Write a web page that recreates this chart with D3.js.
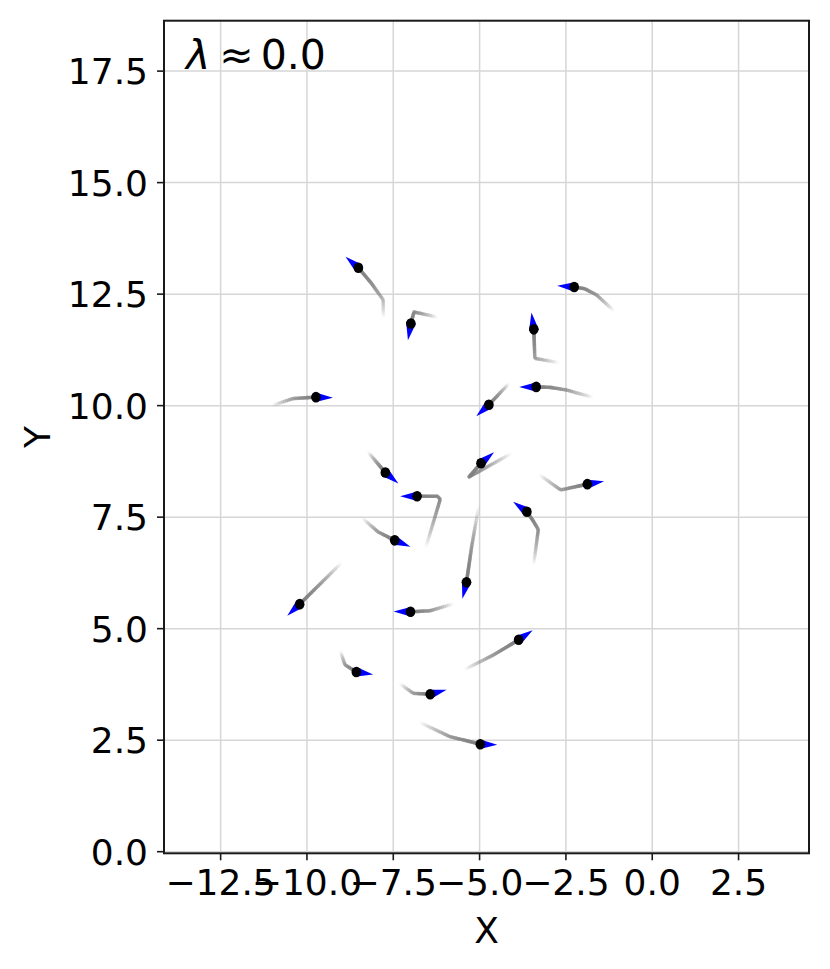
<!DOCTYPE html>
<html lang="en">
<head>
<meta charset="UTF-8">
<title>Agents</title>
<script src="https://d3js.org/d3.v7.min.js"></script>
<style>
  body { margin: 0; background: #fff; }
  svg text { font-family: "DejaVu Sans", sans-serif; fill: #000; }
</style>
</head>
<body>
<svg id="chart" width="830" height="969"></svg>
<script>
// agent positions (data units)
const agentX = [-8.51, -6.99, -2.26, -3.43, -9.74, -4.73, -3.36, -4.96, -7.73, -6.81,
                -1.88, -3.63, -7.46, -5.38, -10.21, -7.00, -3.87, -8.57, -6.43, -4.98];
const agentY = [13.09, 11.84, 12.66, 11.71, 10.19, 10.02, 10.42, 8.71, 8.50, 7.97,
                8.24, 7.62, 6.98, 6.04, 5.55, 5.38, 4.75, 4.03, 3.53, 2.41];
// heading in degrees (counter-clockwise from +x)
const heading = [139, -100, 176, 98, -2, -138, 180, 40, -40, 180,
                 10, 144, -22, -104, -137, 179, 34, -9, 15, -2];
// trail points from oldest to newest (the agent itself closes each trail)
const trails = [
  [[-7.79, 11.99], [-7.79, 12.37], [-8.13, 12.74]],
  [[-6.26, 11.99], [-6.90, 12.10]],
  [[-1.13, 12.14], [-1.61, 12.48], [-1.95, 12.62]],
  [[-2.74, 10.97], [-3.40, 11.06]],
  [[-10.98, 10.01], [-10.40, 10.16]],
  [[-4.17, 10.48]],
  [[-1.74, 10.19], [-2.48, 10.35], [-2.95, 10.41]],
  [[-4.10, 8.92], [-5.31, 8.40]],
  [[-8.21, 8.94]],
  [[-6.55, 6.84], [-6.14, 7.90], [-6.22, 7.97]],
  [[-3.25, 8.44], [-2.65, 8.11]],
  [[-3.43, 6.46], [-3.30, 7.22], [-3.45, 7.42]],
  [[-8.37, 7.46], [-7.94, 7.17]],
  [[-5.03, 7.73], [-5.23, 6.84]],
  [[-9.02, 6.46]],
  [[-5.79, 5.55], [-6.44, 5.40]],
  [[-5.42, 4.09], [-4.60, 4.41]],
  [[-9.02, 4.47], [-8.90, 4.19]],
  [[-7.28, 3.75], [-6.92, 3.55]],
  [[-6.71, 2.89], [-5.86, 2.58]]
];
const xTicks = [-12.5, -10.0, -7.5, -5.0, -2.5, 0.0, 2.5];
const yTicks = [0.0, 2.5, 5.0, 7.5, 10.0, 12.5, 15.0, 17.5];
const xDomain = [-14.14, 4.54];
const yDomain = [-0.036, 18.63];
const lambdaValue = 0.0;

const svg = d3.select("#chart");
const plot = { left: 164, right: 809, top: 20.7, bottom: 853.3 };

const x = d3.scaleLinear().domain(xDomain).range([plot.left, plot.right]);
const y = d3.scaleLinear().domain(yDomain).range([plot.bottom, plot.top]);
const fmt = d => d3.format(".1f")(d).replace("-", "\u2212");

// grid
svg.append("g").selectAll("line").data(xTicks).enter().append("line")
  .attr("x1", d => x(d)).attr("x2", d => x(d))
  .attr("y1", plot.top).attr("y2", plot.bottom)
  .attr("stroke", "#d6d6d6").attr("stroke-width", 1.5);
svg.append("g").selectAll("line").data(yTicks).enter().append("line")
  .attr("y1", d => y(d)).attr("y2", d => y(d))
  .attr("x1", plot.left).attr("x2", plot.right)
  .attr("stroke", "#d6d6d6").attr("stroke-width", 1.5);

// trails: fade from the oldest point to the agent
const line = d3.line().x(d => x(d[0])).y(d => y(d[1]));
const trailG = svg.append("g");
trails.forEach((pts, i) => {
  const all = pts.concat([[agentX[i], agentY[i]]]);
  const tmp = trailG.append("path").attr("d", line(all)).attr("fill", "none");
  const node = tmp.node();
  const len = node.getTotalLength();
  const n = Math.max(8, Math.round(len / 2));
  for (let k = 0; k < n; k++) {
    const a = node.getPointAtLength(len * k / n);
    const b = node.getPointAtLength(len * (k + 1) / n);
    const t = (k + 1) / n;
    trailG.append("line")
      .attr("x1", a.x).attr("y1", a.y).attr("x2", b.x).attr("y2", b.y)
      .attr("stroke", "#808080").attr("stroke-width", 3.6)
      .attr("stroke-linecap", "round")
      .attr("stroke-opacity", 0.85 * t);
  }
  tmp.remove();
});

// heading arrows
const arrowG = svg.append("g");
agentX.forEach((ax, i) => {
  const cx = x(ax), cy = y(agentY[i]);
  const a = -heading[i] * Math.PI / 180;
  const len = 17, half = 5, back = -1;
  const ux = Math.cos(a), uy = Math.sin(a);
  const px = -uy, py = ux;
  const pts = [
    [cx + ux * len, cy + uy * len],
    [cx + ux * back + px * half, cy + uy * back + py * half],
    [cx + ux * back - px * half, cy + uy * back - py * half]
  ];
  arrowG.append("polygon")
    .attr("points", pts.map(p => p.join(",")).join(" "))
    .attr("fill", "#0000ff");
});

// agents
svg.append("g").selectAll("ellipse").data(agentX).enter().append("ellipse")
  .attr("cx", d => x(d)).attr("cy", (d, i) => y(agentY[i]))
  .attr("rx", 4.8).attr("ry", 5.3).attr("fill", "#000");

// spines
svg.append("rect")
  .attr("x", plot.left).attr("y", plot.top)
  .attr("width", plot.right - plot.left).attr("height", plot.bottom - plot.top)
  .attr("fill", "none").attr("stroke", "#1a1a1a").attr("stroke-width", 2);

// ticks
const xAxis = svg.append("g");
xTicks.forEach(t => {
  xAxis.append("line").attr("x1", x(t)).attr("x2", x(t))
    .attr("y1", plot.bottom).attr("y2", plot.bottom + 7)
    .attr("stroke", "#1a1a1a").attr("stroke-width", 1.6);
  xAxis.append("text").attr("x", x(t)).attr("y", plot.bottom + 42)
    .attr("text-anchor", "middle").attr("font-size", 36).text(fmt(t));
});
const yAxis = svg.append("g");
yTicks.forEach(t => {
  yAxis.append("line").attr("y1", y(t)).attr("y2", y(t))
    .attr("x1", plot.left - 7).attr("x2", plot.left)
    .attr("stroke", "#1a1a1a").attr("stroke-width", 1.6);
  yAxis.append("text").attr("x", plot.left - 16).attr("y", y(t) + 13)
    .attr("text-anchor", "end").attr("font-size", 36).text(fmt(t));
});

// axis labels
svg.append("text").attr("x", (plot.left + plot.right) / 2).attr("y", 943)
  .attr("text-anchor", "middle").attr("font-size", 36).text("X");
svg.append("text")
  .attr("transform", `translate(50,${(plot.top + plot.bottom) / 2}) rotate(-90)`)
  .attr("text-anchor", "middle").attr("font-size", 36).text("Y");

// lambda annotation
const lam = svg.append("text").attr("x", 186).attr("y", 69).attr("font-size", 41);
lam.append("tspan").attr("font-style", "italic").text("\u03bb");
lam.append("tspan").attr("dx", 9).text("\u2248");
lam.append("tspan").attr("dx", 7).text(lambdaValue.toFixed(1));
</script>
</body>
</html>
